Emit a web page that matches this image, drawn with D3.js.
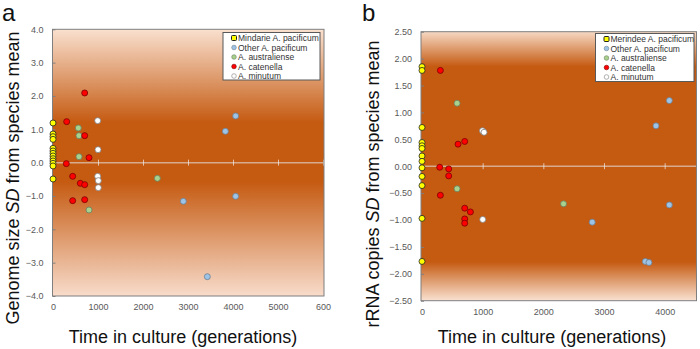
<!DOCTYPE html>
<html>
<head>
<meta charset="utf-8">
<script src="https://cdn.jsdelivr.net/npm/d3@7"></script>
<style>
  body { margin: 0; background: #fff; }
  svg { display: block; font-family: "Liberation Sans", Arial, sans-serif; }
</style>
</head>
<body>
<div id="chart"></div>
<script>
// panel a: genome size SD from species mean, [generations, SD]
const gsMindarie = [[0, 1.19], [0, 0.86], [0, 0.78], [0, 0.70], [0, 0.43], [0, 0.35], [0, 0.28],
    [0, 0.20], [0, 0.12], [0, 0.05], [0, -0.02], [0, -0.10], [0, -0.49]];
const gsOtherPac = [[4059, 1.40], [3830, 0.94], [4059, -1.01], [2896, -1.16], [3430, -3.42]];
const gsAustraliense = [[563, 1.04], [578, 0.81], [578, 0.18], [800, -1.42], [2319, -0.47]];
const gsCatenella = [[304, 1.23], [704, 2.09], [704, 0.81], [800, 0.15], [296, -0.03], [437, -0.41],
    [607, -0.62], [704, -0.66], [437, -1.14], [704, -1.11]];
const gsMinutum = [[993, 1.26], [1000, 0.39], [993, -0.41], [1007, -0.54], [1007, -0.75]];

// panel b: rRNA copies SD from species mean
const rrMerindee = [[0, 1.85], [0, 1.78], [0, 0.72], [0, 0.44], [0, 0.38], [0, 0.33], [0, 0.19],
    [0, 0.09], [0, -0.03], [0, -0.19], [0, -0.36], [0, -0.97], [0, -1.77]];
const rrOtherPac = [[4077, 1.22], [3857, 0.75], [4077, -0.72], [2806, -1.04], [3681, -1.77], [3741, -1.79]];
const rrAustraliense = [[578, 1.17], [578, -0.42], [2333, -0.70]];
const rrCatenella = [[303, 1.78], [594, 0.41], [704, 0.46], [292, -0.02], [440, -0.05], [440, -0.18],
    [303, -0.54], [704, -0.78], [798, -0.85], [704, -0.98], [704, -1.06]];
const rrMinutum = [[996, 0.66], [1023, 0.63], [1001, -0.99]];

const namesA = ['Mindarie A. pacificum', 'Other A. pacificum', 'A. australiense', 'A. catenella', 'A. minutum'];
const namesB = ['Merindee A. pacificum', 'Other A. pacificum', 'A. australiense', 'A. catenella', 'A. minutum'];

const xTicksA = [0, 1000, 2000, 3000, 4000, 5000, 6000];
const xTickLabelsA = ['0', '1000', '2000', '3000', '4000', '5000', '600'];
const yTicksA = [4, 3, 2, 1, 0, -1, -2, -3, -4];
const xTicksB = [0, 1000, 2000, 3000, 4000];
const yTicksB = [2.5, 2, 1.5, 1, 0.5, 0, -0.5, -1, -1.5, -2, -2.5];

// marker styles, same order as the series
const fills = ['#ffff00', '#9dc3e6', '#a9d18e', '#ff0000', '#ffffff'];
const strokes = ['#222', '#6d7f91', '#6b7f5e', '#7a0000', '#7f7f7f'];

const W = 700, H = 349;
const svg = d3.select('#chart').append('svg').attr('width', W).attr('height', H);
const defs = svg.append('defs');

function drawPanel(cfg) {
    const x = d3.scaleLinear().domain(cfg.xDomain).range(cfg.xRange);
    const y = d3.scaleLinear().domain(cfg.yDomain).range(cfg.yRange);
    const [x0, x1] = cfg.box[0], [y0, y1] = cfg.box[1];

    const grad = defs.append('linearGradient').attr('id', cfg.id)
        .attr('x1', 0).attr('y1', 0).attr('x2', 0).attr('y2', 1);
    cfg.stops.forEach(s => grad.append('stop').attr('offset', s[0]).attr('stop-color', s[1]));

    const g = svg.append('g');
    g.append('rect')
        .attr('x', x0).attr('y', y0).attr('width', x1 - x0).attr('height', y1 - y0)
        .attr('fill', `url(#${cfg.id})`);

    // zero line with tick marks
    const zero = g.append('g').attr('transform', `translate(0,${y(0)})`)
        .call(d3.axisBottom(x).tickValues(cfg.xTicks.filter(d => d > 0)).tickSizeOuter(0).tickSize(0).tickFormat(''));
    zero.select('.domain').attr('stroke', '#e3e3e3').attr('stroke-opacity', 0.6).attr('stroke-width', 1.5)
        .attr('d', `M${x0},0H${x1}`);
    zero.selectAll('.tick line').attr('y1', -3).attr('y2', 3)
        .attr('stroke', '#eeeeee').attr('stroke-opacity', 0.7);

    // x labels at bottom
    const xa = g.append('g').attr('transform', `translate(0,${y1})`)
        .call(d3.axisBottom(x).tickValues(cfg.xTicks).tickSize(0).tickPadding(8)
            .tickFormat((d, i) => cfg.xLabels[i]));
    xa.select('.domain').remove();
    xa.selectAll('text').attr('fill', '#595959').style('font-size', '9px');

    // y axis
    const ya = g.append('g').attr('transform', `translate(${x0},0)`)
        .call(d3.axisLeft(y).tickValues(cfg.yTicks).tickSize(-3).tickSizeOuter(0).tickPadding(9)
            .tickFormat(d3.format(cfg.yFormat)));
    ya.select('.domain').remove();
    ya.selectAll('.tick line').attr('stroke', '#7f7f7f');
    ya.selectAll('text').attr('fill', '#595959').style('font-size', '9px');

    // border
    g.append('rect')
        .attr('x', x0).attr('y', y0).attr('width', x1 - x0).attr('height', y1 - y0)
        .attr('fill', 'none').attr('stroke', '#7f7f7f').attr('stroke-width', 1);

    // points
    cfg.series.forEach((pts, i) => {
        g.append('g').selectAll('circle').data(pts).enter().append('circle')
            .attr('cx', d => x(d[0])).attr('cy', d => y(d[1])).attr('r', 3)
            .attr('fill', fills[i]).attr('stroke', strokes[i]).attr('stroke-width', 0.8);
    });

    // legend
    const [lx, ly, lw, lh] = cfg.legend;
    const lg = g.append('g').attr('transform', `translate(${lx},${ly})`);
    lg.append('rect').attr('width', lw).attr('height', lh)
        .attr('fill', '#fff').attr('stroke', '#595959').attr('stroke-width', 1);
    cfg.names.forEach((n, i) => {
        const row = lg.append('g').attr('transform', `translate(0,${5.5 + i * 9.5})`);
        if (i === 0) {
            row.append('rect').attr('x', 8.5).attr('y', -2.5).attr('width', 5).attr('height', 5).attr('rx', 1)
                .attr('fill', fills[i]).attr('stroke', '#222').attr('stroke-width', 1);
        } else {
            row.append('circle').attr('cx', 11).attr('cy', 0).attr('r', 2.3)
                .attr('fill', fills[i]).attr('stroke', strokes[i]).attr('stroke-width', 0.6);
        }
        row.append('text').attr('x', 15).attr('y', 3).style('font-size', '8.5px').attr('fill', '#333').text(n);
    });

    // titles
    g.append('text').attr('x', cfg.xTitle[0]).attr('y', cfg.xTitle[1]).attr('text-anchor', 'middle')
        .style('font-size', '18px').attr('fill', '#111').text('Time in culture (generations)');
    const yt = g.append('text').attr('transform', `translate(${cfg.yTitle[0]},${cfg.yTitle[1]}) rotate(-90)`)
        .attr('text-anchor', 'middle').style('font-size', '18px').attr('fill', '#111');
    yt.append('tspan').text(cfg.yTitleText + ' ');
    yt.append('tspan').style('font-style', 'italic').text('SD');
    yt.append('tspan').text(' from species mean');

    g.append('text').attr('x', cfg.letter[0]).attr('y', cfg.letter[1])
        .style('font-size', '24px').attr('fill', '#111').text(cfg.letterText);
}

drawPanel({
    id: 'gradA',
    xDomain: [0, 6000], xRange: [53, 323],
    yDomain: [-4, 4], yRange: [296, 29.3],
    box: [[52.5, 324], [29.3, 296]],
    stops: [[0, '#f9e0cf'], [0.35, '#c55a11'], [0.57, '#c55a11'], [1, '#f8dccb']],
    xTicks: xTicksA, xLabels: xTickLabelsA, yTicks: yTicksA, yFormat: '.1f',
    series: [gsMindarie, gsOtherPac, gsAustraliense, gsCatenella, gsMinutum],
    names: namesA,
    legend: [223, 32.5, 97, 47.5],
    xTitle: [183, 343], yTitle: [19, 178], yTitleText: 'Genome size',
    letter: [2, 21], letterText: 'a'
});

drawPanel({
    id: 'gradB',
    xDomain: [0, 4500], xRange: [422, 695],
    yDomain: [-2.5, 2.5], yRange: [300.7, 31.7],
    box: [[421, 696.5], [31.7, 300.7]],
    stops: [[0, '#f6d8c3'], [0.13, '#c55a11'], [0.855, '#c55a11'], [1, '#f9e1d1']],
    xTicks: xTicksB, xLabels: ['0', '1000', '2000', '3000', '4000'], yTicks: yTicksB, yFormat: '.2f',
    series: [rrMerindee, rrOtherPac, rrAustraliense, rrCatenella, rrMinutum],
    names: namesB,
    legend: [595.5, 33.5, 98.5, 48],
    xTitle: [552, 343], yTitle: [379, 184], yTitleText: 'rRNA copies',
    letter: [362, 21], letterText: 'b'
});
</script>
</body>
</html>
